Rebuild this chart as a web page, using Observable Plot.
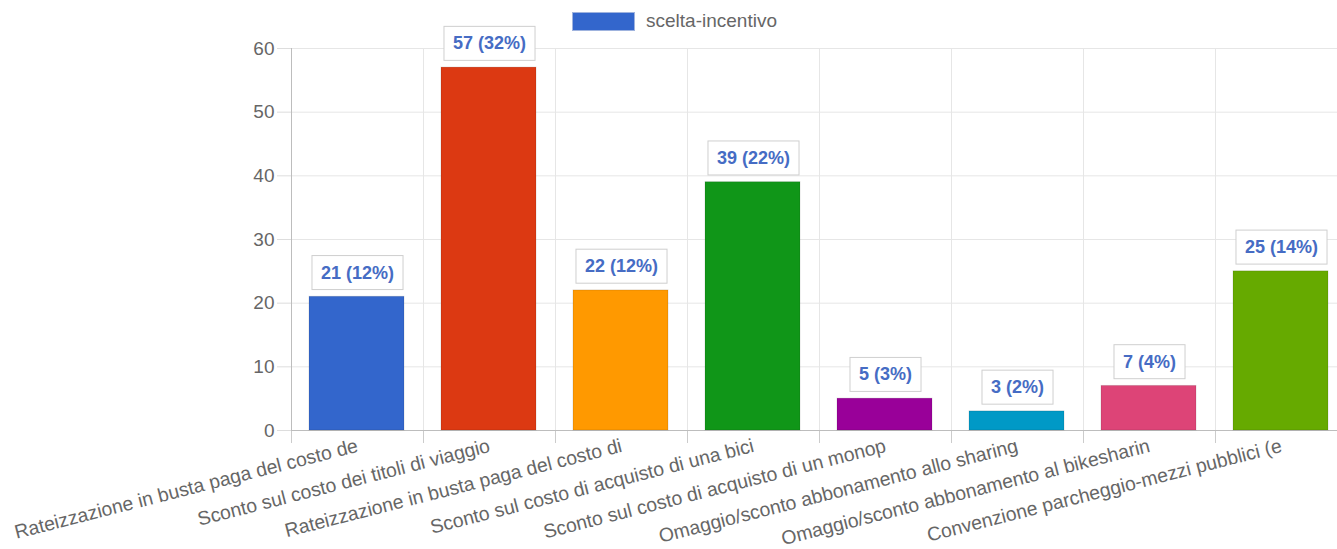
<!DOCTYPE html>
<html>
<head>
<meta charset="utf-8">
<script src="https://cdn.jsdelivr.net/npm/d3@7"></script>
<script src="https://cdn.jsdelivr.net/npm/@observablehq/plot@0.6"></script>
<style>
  html, body { margin: 0; padding: 0; background: #fff; overflow: hidden; }
  body { font-family: "Liberation Sans", Arial, sans-serif; }
  #legend { height: 30px; position: relative; }
  #legend .sw { position: absolute; left: 572px; top: 12px; width: 63px; height: 19px; background: #3366cc; border: 1px solid #9fb3de; box-sizing: border-box; }
  #legend .lb { position: absolute; left: 646px; top: 10px; font-size: 19px; color: #666; line-height: 22px; }
  #chart svg { overflow: visible; }
</style>
</head>
<body>
<div id="legend"><div class="sw"></div><div class="lb">scelta-incentivo</div></div>
<div id="chart"></div>
<script>
const categories = [
  "Rateizzazione in busta paga del costo de",
  "Sconto sul costo dei titoli di viaggio",
  "Rateizzazione in busta paga del costo di",
  "Sconto sul costo di acquisto di una bici",
  "Sconto sul costo di acquisto di un monop",
  "Omaggio/sconto abbonamento allo sharing",
  "Omaggio/sconto abbonamento al bikesharin",
  "Convenzione parcheggio-mezzi pubblici (e"
];
const values = [21, 57, 22, 39, 5, 3, 7, 25];
const percents = [12, 32, 12, 22, 3, 2, 4, 14];
const colors = ["#3366cc", "#dc3912", "#ff9900", "#109618", "#990099", "#0099c6", "#dd4477", "#66aa00"];
const yTicks = [0, 10, 20, 30, 40, 50, 60];

const data = categories.map((c, i) => ({
  cat: c, i, value: values[i], label: `${values[i]} (${percents[i]}%)`, color: colors[i]
}));
const edges = d3.range(categories.length + 1);

const plot = Plot.plot({
  width: 1337,
  height: 519,
  marginTop: 18,
  marginBottom: 119,
  marginLeft: 291,
  marginRight: 0,
  x: { type: "linear", domain: [0, categories.length], range: [291, 1347], axis: null },
  y: { domain: [0, 60], axis: null },
  style: { fontFamily: "Liberation Sans, Arial, sans-serif", background: "#fff" },
  marks: [
    Plot.ruleY(yTicks, { stroke: "#e6e6e6" }),
    Plot.ruleX(edges, { y1: 0, y2: 60, stroke: "#e6e6e6" }),
    Plot.axisX({ ticks: edges, tickSize: 13, tickFormat: () => "", stroke: "#ccc", strokeOpacity: 1 }),
    Plot.axisY({ ticks: yTicks, tickSize: 14, tickPadding: 3, fontSize: 19, stroke: "#ddd", strokeOpacity: 1, fill: "#666", label: null }),
    Plot.ruleX([0], { stroke: "#bdbdbd" }),
    Plot.ruleY([0], { stroke: "#bdbdbd" }),
    Plot.rectY(data, {
      x1: d => d.i, x2: d => d.i + 1, y1: 0, y2: "value",
      fill: "color", insetLeft: 18, insetRight: 19,
      stroke: "#000", strokeOpacity: 0.12, strokeWidth: 1
    }),
    Plot.text(data, {
      x: d => d.i + 0.5, y: "value", text: "label", dy: -24,
      fontSize: 18, fontWeight: "bold", fill: "#466cc4", className: "vlabel"
    }),
    Plot.text(data, {
      x: d => d.i + 0.5, y: 0, text: "cat", rotate: -14.3, textAnchor: "end",
      dy: 15, dx: 0, fontSize: 19.4, fill: "#666"
    })
  ]
});
document.getElementById("chart").appendChild(plot);

// draw bordered boxes behind the value labels, sized from the rendered text
const svgNS = "http://www.w3.org/2000/svg";
plot.querySelectorAll(".vlabel text").forEach(t => {
  const b = t.getBBox();
  const r = document.createElementNS(svgNS, "rect");
  const px = 9, py = 7;
  r.setAttribute("x", b.x - px);
  r.setAttribute("y", b.y - py);
  r.setAttribute("width", b.width + 2 * px);
  r.setAttribute("height", b.height + 2 * py);
  r.setAttribute("fill", "#fff");
  r.setAttribute("stroke", "#cfcfcf");
  r.setAttribute("stroke-width", "1");
  const tr = t.getAttribute("transform");
  if (tr) r.setAttribute("transform", tr);
  t.parentNode.insertBefore(r, t);
});
</script>
</body>
</html>
